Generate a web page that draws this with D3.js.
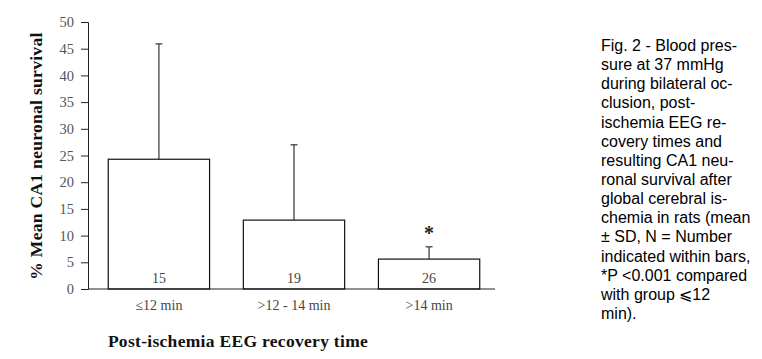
<!DOCTYPE html>
<html><head><meta charset="utf-8">
<script src="https://cdn.jsdelivr.net/npm/d3@7"></script>
<style>body{margin:0;background:#fff}</style>
</head><body>
<script>
const categories = ["≤12 min", ">12 - 14 min", ">14 min"];
const means = [24.3, 12.9, 5.6];
const sdUpper = [45.9, 27.0, 7.9];
const nLabels = ["15", "19", "26"];
const significance = ["", "", "*"];
const yTicks = [0, 5, 10, 15, 20, 25, 30, 35, 40, 45, 50];
const captionLines = ["Fig. 2 - Blood pres-","sure at 37 mmHg","during bilateral oc-","clusion, post-","ischemia EEG re-","covery times and","resulting CA1 neu-","ronal survival after","global cerebral is-","chemia in rats (mean","± SD, N = Number","indicated within bars,","*P <0.001 compared","with group ⩽12","min)."];

const W = 762, H = 359;
const svg = d3.select("body").append("svg").attr("width", W).attr("height", H);
const x = d3.scaleBand().domain(categories).range([88, 500]).paddingInner(0.25).paddingOuter(0.15);
const y = d3.scaleLinear().domain([0, 50]).range([289, 22]);
const serif = "'Liberation Serif','Times New Roman',serif";

// y axis
const ya = svg.append("g").attr("transform", "translate(88,0)")
  .call(d3.axisLeft(y).tickValues(yTicks).tickSize(7).tickPadding(7));
ya.select(".domain").attr("stroke", "#222");
ya.selectAll(".tick line").attr("stroke", "#222");
ya.selectAll(".tick text").style("font-family", serif).style("font-size", "14.5px").attr("fill", "#555");

// x axis line
svg.append("line").attr("x1", 88).attr("x2", 495).attr("y1", y(0)).attr("y2", y(0)).attr("stroke", "#222").attr("stroke-width", 1.2);

// error bars
const eb = svg.append("g").attr("stroke", "#333").attr("stroke-width", 1.2);
categories.forEach((c, i) => {
  const cx = x(c) + x.bandwidth() / 2;
  eb.append("line").attr("x1", cx).attr("x2", cx).attr("y1", y(means[i])).attr("y2", y(sdUpper[i]));
  eb.append("line").attr("x1", cx - 3.5).attr("x2", cx + 3.5).attr("y1", y(sdUpper[i])).attr("y2", y(sdUpper[i]));
});

// bars
svg.append("g").selectAll("rect").data(categories).join("rect")
  .attr("x", d => x(d)).attr("width", x.bandwidth())
  .attr("y", (d, i) => y(means[i])).attr("height", (d, i) => y(0) - y(means[i]))
  .attr("fill", "none").attr("stroke", "#111").attr("stroke-width", 1.2);

// N labels
svg.append("g").selectAll("text").data(categories).join("text")
  .attr("x", d => x(d) + x.bandwidth() / 2).attr("y", 283)
  .attr("text-anchor", "middle").attr("font-family", serif).attr("font-size", 14).attr("fill", "#444")
  .text((d, i) => nLabels[i]);

// significance
svg.append("g").selectAll("text").data(categories).join("text")
  .attr("x", d => x(d) + x.bandwidth() / 2).attr("y", (d, i) => y(sdUpper[i]) - 7)
  .attr("text-anchor", "middle").attr("font-family", serif).attr("font-size", 20).attr("font-weight", "bold").attr("fill", "#222")
  .text((d, i) => significance[i]);

// category labels
svg.append("g").selectAll("text").data(categories).join("text")
  .attr("x", d => x(d) + x.bandwidth() / 2).attr("y", 310)
  .attr("text-anchor", "middle").attr("font-family", serif).attr("font-size", 14).attr("fill", "#444")
  .text(d => d);

// axis titles
svg.append("text").attr("x", 238).attr("y", 347).attr("text-anchor", "middle")
  .attr("font-family", serif).attr("font-size", 17.5).attr("font-weight", "bold").attr("fill", "#111")
  .attr("letter-spacing", 0.3)
  .text("Post-ischemia EEG recovery time");
svg.append("text").attr("transform", "translate(42,156) rotate(-90)").attr("text-anchor", "middle")
  .attr("font-family", serif).attr("font-size", 17.5).attr("font-weight", "bold").attr("fill", "#111")
  .attr("letter-spacing", 0.3)
  .text("% Mean CA1 neuronal survival");

// caption (column width ~152px; overlong lines are condensed to fit)
const colWidth = 152;
svg.append("g").selectAll("text").data(captionLines).join("text")
  .attr("x", 601).attr("y", (d, i) => 51 + i * 19.14)
  .attr("font-family", "'Liberation Sans',Arial,sans-serif").attr("font-size", 16).attr("fill", "#000")
  .text(d => d)
  .each(function() {
    if (this.getComputedTextLength() > colWidth) {
      d3.select(this).attr("textLength", colWidth).attr("lengthAdjust", "spacingAndGlyphs");
    }
  });
</script>
</body></html>
